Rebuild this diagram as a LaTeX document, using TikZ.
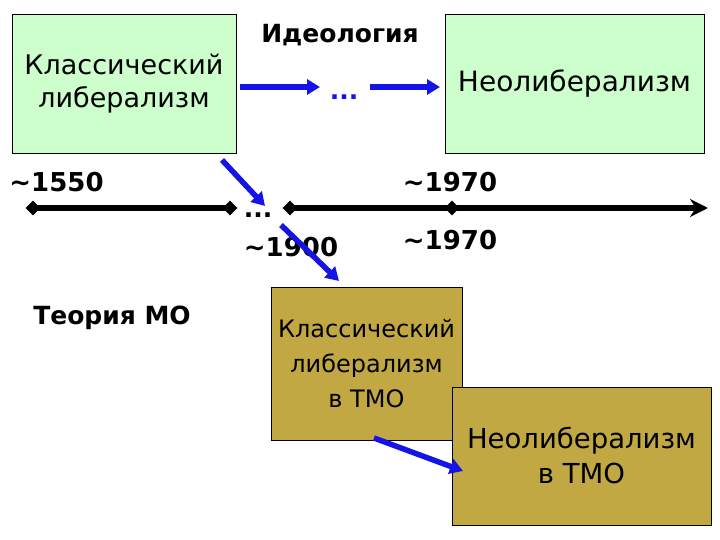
\documentclass[tikz,border=0pt]{standalone}
\usepackage{fontspec}
\setmainfont{DejaVu Sans}
\usetikzlibrary{arrows.meta,shapes.geometric}
\definecolor{lgreen}{RGB}{204,255,204}
\definecolor{olivebox}{RGB}{193,168,66}
\definecolor{barrow}{RGB}{20,20,230}
\begin{document}
\begin{tikzpicture}[x=1pt,y=-1pt,
  gbox/.style={draw=black, line width=0.8pt, fill=lgreen, inner sep=0pt, align=center},
  obox/.style={draw=black, line width=0.8pt, fill=olivebox, inner sep=0pt, align=center},
  lbl/.style={font=\bfseries\fontsize{25}{28}\selectfont, inner sep=0pt},
  yr/.style={font=\bfseries\fontsize{26}{28}\selectfont, inner sep=0pt},
  barr/.style={draw=barrow, line width=5.5pt, -{Triangle[length=13pt,width=15pt]}},
  tline/.style={draw=black, line width=5.5pt},
  dmd/.style={diamond, fill=black, inner sep=0pt, minimum size=15pt}]
\useasboundingbox (0,0) rectangle (720,540);
\fill[white] (0,0) rectangle (720,540);
% boxes
\node[gbox, minimum width=224pt, minimum height=139pt, font=\fontsize{27}{33}\selectfont] (b1) at (124,83.5) {Классический\\либерализм};
\node[gbox, minimum width=259pt, minimum height=139pt, font=\fontsize{28}{33}\selectfont] (b2) at (574.5,83.5) {Неолиберализм};
\node[obox, minimum width=191pt, minimum height=153pt, font=\fontsize{24}{35}\selectfont] (b3) at (366.5,363.5) {Классический\\либерализм\\в ТМО};
\node[obox, minimum width=259pt, minimum height=138pt, font=\fontsize{27.5}{35}\selectfont] (b4) at (581.5,456) {Неолиберализм\\в ТМО};
% labels
\node[lbl] (ideo) at (340,35) {Идеология};
\node[lbl, text=barrow] (dots) at (344,97) {...};
\node[yr] (y1550) at (56.5,182) {\textasciitilde1550};
\node[yr] (y1970a) at (450,182) {\textasciitilde1970};
\node[yr] (y1970b) at (450,240) {\textasciitilde1970};
\node[lbl] (dots2) at (258,215) {...};
\node[yr] (y1900) at (291,247) {\textasciitilde1900};
\node[lbl] (tmo) at (112,318) {Теория МО};
% timeline
\node[dmd] (d1) at (33,208) {};
\node[dmd] (d2) at (230,208) {};
\node[dmd] (d3) at (290,208) {};
\node[dmd] (d4) at (452,208) {};
\coordinate (tend) at (708,208);
\draw[tline] (d1.center) -- (d2.center);
\draw[tline, -{Stealth[length=18pt,width=18pt]}] (d3.center) -- (tend);
% arrows
\coordinate (a1s) at (240,87);
\coordinate (a1e) at (320,87);
\coordinate (a2s) at (370,87);
\coordinate (a2e) at (440,87);
\draw[barr] (a1s) -- (a1e);
\draw[barr] (a2s) -- (a2e);
\coordinate (a3s) at (222,160);
\coordinate (a3e) at (265,206);
\draw[barr] (a3s) -- (a3e);
\coordinate (a4s) at (281,225);
\coordinate (a4e) at (339,281);
\draw[barr] (a4s) -- (a4e);
\coordinate (a5s) at (374,438);
\coordinate (a5e) at (463,471);
\draw[barr] (a5s) -- (a5e);
\end{tikzpicture}
\end{document}
